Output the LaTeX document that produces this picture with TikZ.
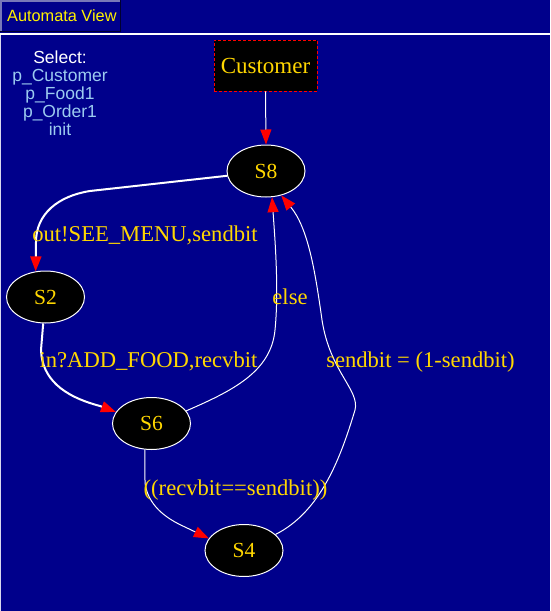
\documentclass[tikz,border=0pt]{standalone}
\usepackage{fontspec}
\setmainfont{Liberation Serif}
\newfontfamily\uisans{Liberation Sans}
\usetikzlibrary{shapes.geometric,arrows.meta}
\definecolor{bgnavy}{HTML}{00008B}
\definecolor{lblgold}{HTML}{FFD700}
\definecolor{listblue}{HTML}{9CCBF0}
\definecolor{tablight}{HTML}{7878B8}
\definecolor{tabdark}{HTML}{000030}
\tikzset{
  state/.style={ellipse, draw=white, line width=1pt, fill=black, minimum width=78pt, minimum height=52pt, inner sep=0pt, text=lblgold, font=\fontsize{21.5}{24}\selectfont},
  procbox/.style={rectangle, draw=red, dashed, dash pattern=on 3pt off 2pt, line width=0.8pt, fill=black, minimum width=103pt, minimum height=51pt, inner sep=0pt, text=lblgold, font=\fontsize{23}{26}\selectfont},
  elabel/.style={anchor=base, inner sep=0pt, text=lblgold, font=\fontsize{22.6}{26}\selectfont},
  listtext/.style={anchor=base, inner sep=0pt, font=\uisans\fontsize{17.5}{20}\selectfont},
  conn/.style={draw=white, line width=1pt, -{Triangle[length=15pt,width=11pt,color=red]}},
  connthick/.style={conn, line width=2pt},
}
\begin{document}
\begin{tikzpicture}[x=1pt,y=-1pt]
\useasboundingbox (0,0) rectangle (550,611);
\fill[bgnavy] (0,0) rectangle (550,611);
% tab
\fill[bgnavy] (0,0) rectangle (121,32);
\draw[tablight, line width=1.5pt] (0.75,32) -- (0.75,0.75) -- (121,0.75);
\draw[tabdark, line width=1.5pt] (0,31.25) -- (120.25,31.25) -- (120.25,0);
\node[anchor=base west, inner sep=0pt, text=yellow, font=\uisans\fontsize{16.3}{18}\selectfont] (tab) at (7,21.7) {Automata View};
% separators
\fill[white] (0,33) rectangle (550,35);
\fill[white!85!bgnavy] (0,35) rectangle (1,611);
% select list
\node[listtext, text=white] (sel) at (60,63) {Select:};
\node[listtext, text=listblue] (l1) at (60,81) {p\_Customer};
\node[listtext, text=listblue] (l2) at (60,99) {p\_Food1};
\node[listtext, text=listblue] (l3) at (60,117) {p\_Order1};
\node[listtext, text=listblue] (l4) at (60,135) {init};
% nodes
\node[procbox] (cust) at (265.5,65.5) {Customer};
\node[state] (S8) at (266,171) {S8};
\node[state] (S2) at (45.5,297) {S2};
\node[state] (S6) at (151.5,423.5) {S6};
\node[state] (S4) at (244,550.5) {S4};
% edges
\draw[conn] (cust.south) -- (S8.north);
\draw[connthick] (S8.187) -- (90,191) .. controls (58,196) and (36,214) .. (36,242) -- (S2.111);
\draw[connthick] (S2.265) -- (41,350) .. controls (42,378) and (62,396) .. (100,406) -- (S6.162);
\draw[conn] (S6.20) .. controls (232,391) and (271,372) .. (275,330) .. controls (279,290) and (275,240) .. (S8.283);
\draw[conn] (S4.27) .. controls (320,512) and (340,460) .. (355,410) .. controls (360,390) and (330,372) .. (322,320) .. controls (315,270) and (308,228) .. (S8.302);
\draw[conn] (S6.256) -- (145,483) .. controls (148,505) and (165,518) .. (185,527) -- (S4.161);
% labels
\node[elabel] (lab1) at (145,241.7) {out!SEE\_MENU,sendbit};
\node[elabel] (lab2) at (148.5,367) {in?ADD\_FOOD,recvbit};
\node[elabel] (lab3) at (290,304) {else};
\node[elabel] (lab4) at (420.5,367.7) {sendbit = (1-sendbit)};
\node[elabel] (lab5) at (235.5,495) {((recvbit==sendbit))};
\end{tikzpicture}
\end{document}
